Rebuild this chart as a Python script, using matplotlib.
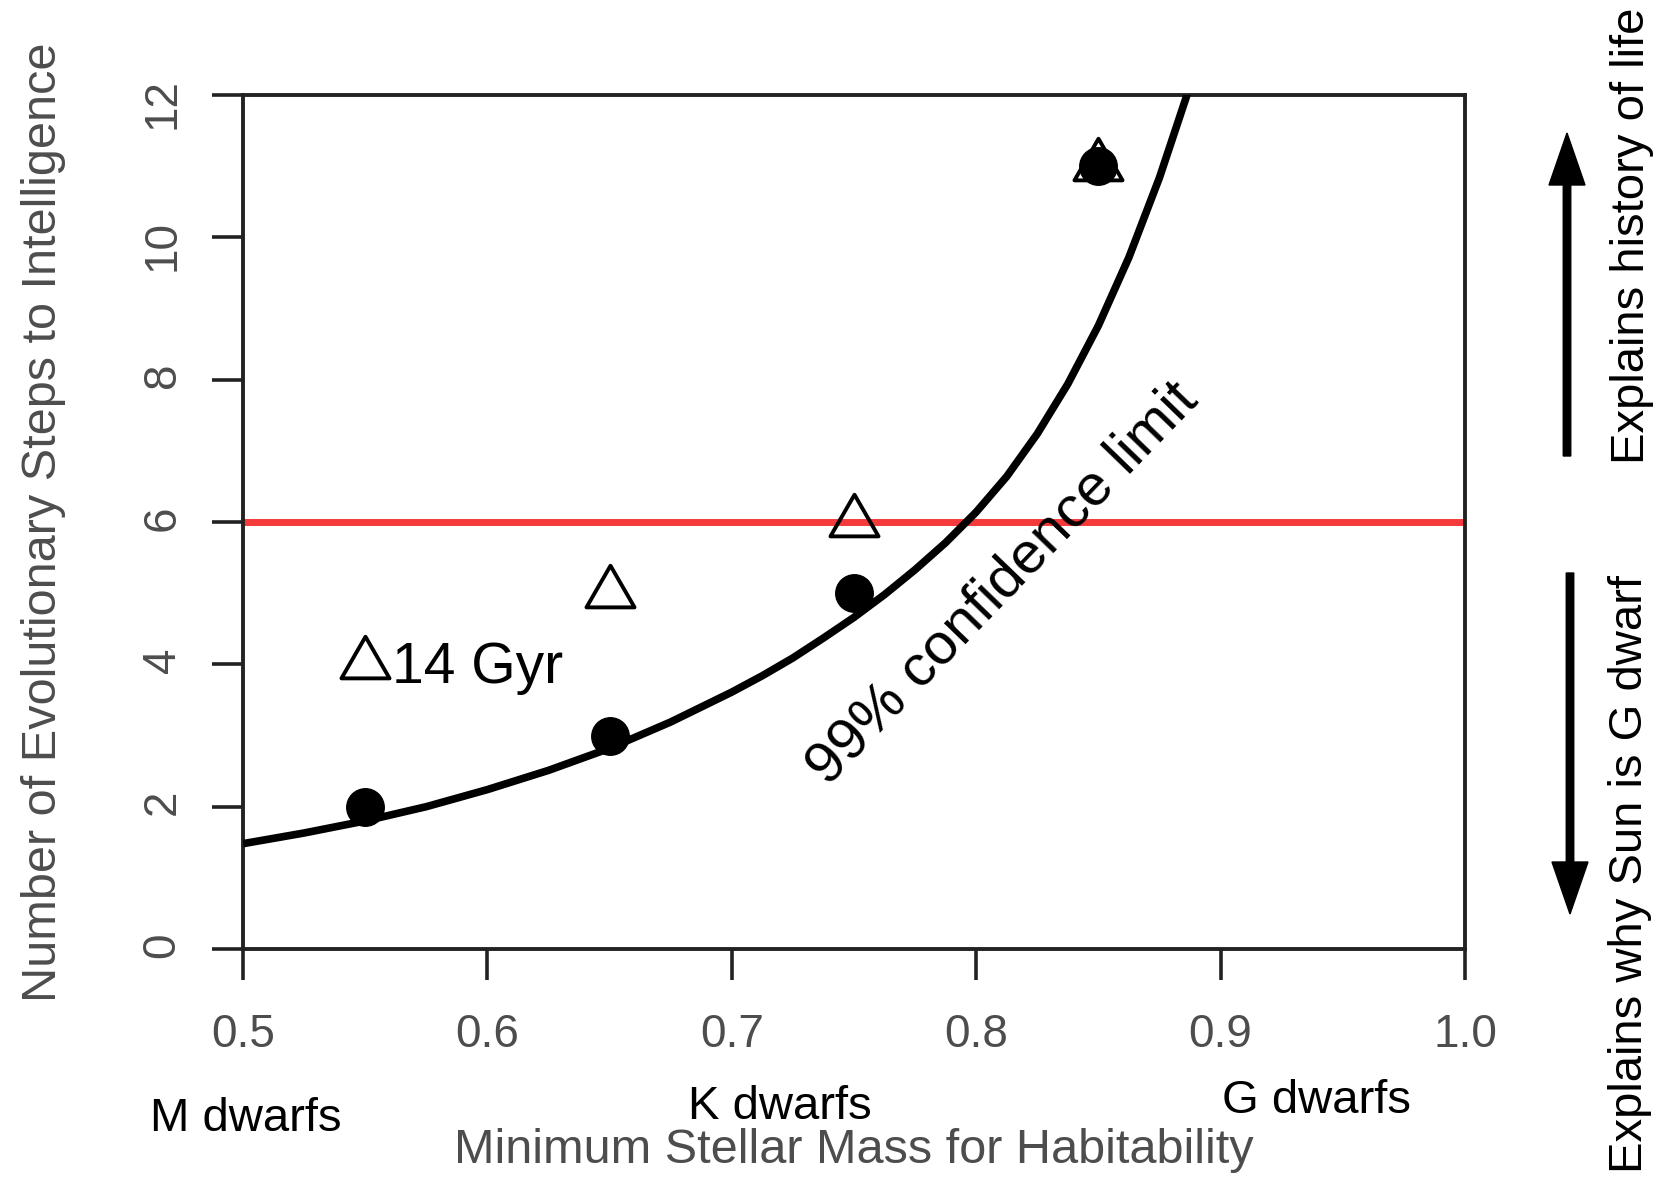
import matplotlib
matplotlib.use("Agg")
import matplotlib.pyplot as plt
from matplotlib.path import Path

plt.rcParams['font.family'] = ['Liberation Sans', 'DejaVu Sans']

# values
mass = [0.55, 0.65, 0.75, 0.85]
steps_circle = [2, 3, 5, 11]
steps_triangle = [4, 5, 6, 11]

curve_x = [0.5, 0.525, 0.55, 0.575, 0.6, 0.625, 0.65, 0.675, 0.7, 0.7125,
           0.725, 0.7375, 0.75, 0.7625, 0.775, 0.7875, 0.8, 0.8125, 0.825,
           0.8375, 0.85, 0.8625, 0.875, 0.8875]
curve_y = [1.48, 1.63, 1.80, 2.00, 2.24, 2.51, 2.82, 3.19, 3.61, 3.84,
           4.09, 4.37, 4.66, 4.98, 5.33, 5.71, 6.14, 6.64, 7.24,
           7.94, 8.76, 9.72, 10.84, 12.13]

limit_steps = 6
x_ticks = [0.5, 0.6, 0.7, 0.8, 0.9, 1.0]
x_ticklabels = ['0.5', '0.6', '0.7', '0.8', '0.9', '1.0']
y_ticks = [0, 2, 4, 6, 8, 10, 12]

W, H = 1672, 1192
GRAY = '#4d4d4d'
AXC = '#222222'

fig = plt.figure(figsize=(W / 100, H / 100), dpi=100)
ax = fig.add_axes([243 / W, 1 - 949 / H, (1465 - 243) / W, (949 - 95) / H])

# equilateral triangle, centred on its centroid (like R pch=2)
tri = Path([(0, 1.155), (-1, -0.577), (1, -0.577), (0, 1.155)],
           [Path.MOVETO, Path.LINETO, Path.LINETO, Path.CLOSEPOLY])

ax.axhline(limit_steps, color='#f43a3a', lw=5, zorder=2)
ax.plot(curve_x, curve_y, color='black', lw=5.5, solid_joinstyle='round',
        solid_capstyle='butt', zorder=3)
ax.plot(mass, steps_triangle, linestyle='none', marker=tri, ms=40,
        mfc='none', mec='black', mew=2.8, zorder=4)
ax.plot(mass, steps_circle, linestyle='none', marker='o', ms=27,
        color='black', zorder=5)

ax.set_xlim(0.5, 1.0)
ax.set_ylim(0, 12)
ax.set_xticks(x_ticks)
ax.set_xticklabels(x_ticklabels)
ax.set_yticks(y_ticks)

for sp in ax.spines.values():
    sp.set_linewidth(2.8)
    sp.set_color(AXC)
ax.tick_params(direction='out', length=22, width=2.6, color=AXC,
               labelsize=33, labelcolor=GRAY)
ax.tick_params(axis='x', pad=24)
ax.tick_params(axis='y', pad=20, labelrotation=90)

ax.set_xlabel('Minimum Stellar Mass for Habitability', fontsize=35, color=GRAY)
ax.xaxis.set_label_coords(0.5, -0.21)
ax.set_ylabel('Number of Evolutionary Steps to Intelligence', fontsize=35, color=GRAY)
ax.yaxis.set_label_coords(-0.145, 0.5)

ax.text(0.561, 3.74, '14 Gyr', fontsize=41, color='black', va='baseline', ha='left')
ax.text(0.811, 5.13, '99% confidence limit', fontsize=42, color='black',
        rotation=46, rotation_mode='anchor', ha='center', va='center')

# star classes under the axis
fig.text(150 / W, 1 - 1131 / H, 'M dwarfs', fontsize=34, va='baseline', ha='left')
fig.text(688 / W, 1 - 1119 / H, 'K dwarfs', fontsize=34, va='baseline', ha='left')
fig.text(1222 / W, 1 - 1113 / H, 'G dwarfs', fontsize=34, va='baseline', ha='left')

# right side notes
fig.text(1632 / W, 1 - 464 / H, 'Explains history of life', fontsize=34,
         rotation=90, ha='center', va='bottom')
fig.text(1630 / W, 1 - 1173 / H, 'Explains why Sun is G dwarf', fontsize=34,
         rotation=90, ha='center', va='bottom')

over = fig.add_axes([0, 0, 1, 1])
over.set_xlim(0, W)
over.set_ylim(H, 0)
over.axis('off')
over.patch.set_visible(False)
over.arrow(1567, 456, 0, 133 - 456, width=7.5, head_width=36, head_length=52,
           length_includes_head=True, color='black')
over.arrow(1570, 573, 0, 914 - 573, width=7.5, head_width=36, head_length=52,
           length_includes_head=True, color='black')

fig.savefig('out.png', dpi=100)
